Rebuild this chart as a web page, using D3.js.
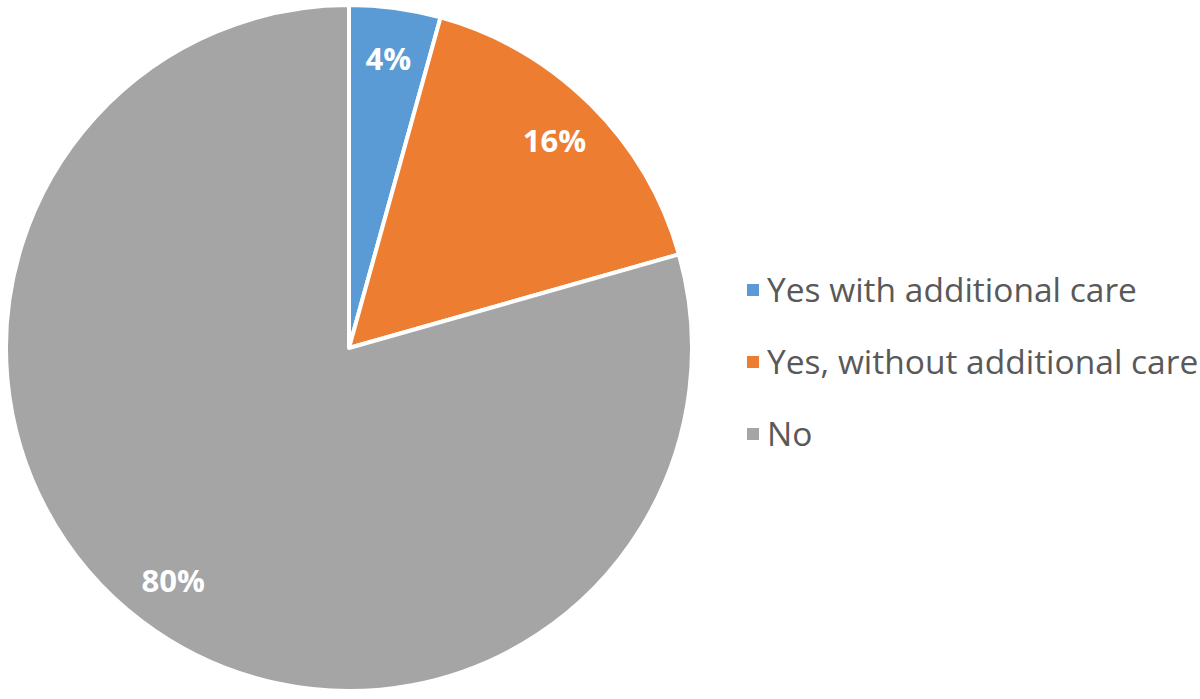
<!DOCTYPE html>
<html><head><meta charset="utf-8">
<script src="https://cdn.jsdelivr.net/npm/d3@7/dist/d3.min.js"></script>
<style>body{margin:0;background:#fff}svg{display:block}</style>
</head><body>
<svg id="chart" width="1200" height="699"></svg>
<script>
const categories = ["Yes with additional care", "Yes, without additional care", "No"];
const values = [4.3, 16.3, 79.4];
const valueLabels = ["4%", "16%", "80%"];
const colors = ["#5B9BD5", "#ED7D31", "#A5A5A5"];

const svg = d3.select("#chart");
const cx = 349, cy = 348, r = 343;
const data = categories.map((c, i) => ({cat: c, value: values[i], label: valueLabels[i], color: colors[i]}));
const pie = d3.pie().sort(null).value(d => d.value);
const arcs = pie(data);
const arc = d3.arc().innerRadius(0).outerRadius(r);
const labelArc = d3.arc().innerRadius(r * 0.85).outerRadius(r * 0.85);

const g = svg.append("g").attr("transform", `translate(${cx},${cy})`);
g.selectAll("path").data(arcs).join("path")
  .attr("d", arc).attr("fill", d => d.data.color)
  .attr("stroke", "#fff").attr("stroke-width", 4).attr("stroke-linejoin", "round");
g.selectAll("text").data(arcs).join("text")
  .attr("transform", d => `translate(${labelArc.centroid(d)})`)
  .attr("text-anchor", "middle").attr("dy", "0.36em")
  .attr("fill", "#fff").attr("font-family", "'Open Sans', sans-serif")
  .attr("font-weight", "bold").attr("font-size", 31)
  .text(d => d.data.label);

const leg = svg.append("g");
const ly = d3.scalePoint().domain(categories).range([290, 434]);
const items = leg.selectAll("g").data(data).join("g")
  .attr("transform", d => `translate(747,${ly(d.cat)})`);
items.append("rect").attr("x", 0).attr("y", -6).attr("width", 12).attr("height", 12)
  .attr("fill", d => d.color);
items.append("text").attr("x", 20).attr("y", 0).attr("dy", "0.35em")
  .attr("fill", "#595959").attr("font-family", "'Open Sans', sans-serif")
  .attr("font-size", 33.5).text(d => d.cat);
</script>
</body></html>
